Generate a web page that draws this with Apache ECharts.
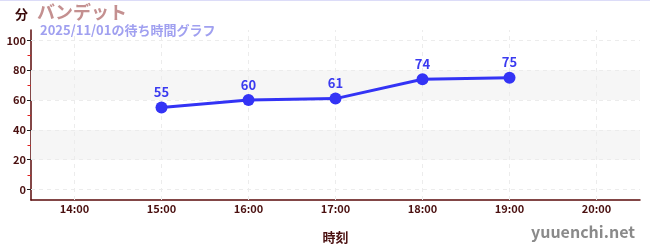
<!DOCTYPE html>
<html>
<head>
<meta charset="utf-8">
<script src="https://cdn.jsdelivr.net/npm/echarts@6/dist/echarts.min.js"></script>
<style>
html,body{margin:0;padding:0;background:#fff;}
#c{width:650px;height:250px;}
</style>
</head>
<body>
<div id="c"></div>
<script>
const categories = ['14:00','15:00','16:00','17:00','18:00','19:00','20:00'];
const waitTimes = [null, 55, 60, 61, 74, 75, null];
const yTickValues = [0, 20, 40, 60, 80, 100];
const yMinorValues = [10, 30, 50, 70, 90];
const shadedBands = [[20, 40], [60, 80]];
const yMin = -7, yMax = 107;

const chart = echarts.init(document.getElementById('c'), null, {renderer: 'canvas'});
const axisColor = '#5a0a0a';
const labelColor = '#4a1010';
const font = '"Noto Sans CJK JP", "Noto Sans", sans-serif';
const gridLine = {color: '#ececec', type: [4, 4], width: 1};

chart.setOption({
  animation: false,
  backgroundColor: '#fff',
  textStyle: {fontFamily: font},
  title: [
    {text: '分', left: 15, top: 8, padding: 0, textStyle: {fontSize: 13, fontWeight: 'bold', color: '#3a0a0a', fontFamily: font}},
    {text: 'バンデット', left: 37, top: 3, padding: 0, textStyle: {fontSize: 18, fontWeight: 'bold', color: '#c49090', fontFamily: font}},
    {text: '2025/11/01の待ち時間グラフ', left: 40, top: 24, padding: 0, textStyle: {fontSize: 13, fontWeight: 'bold', color: '#a0a0f0', fontFamily: font}},
    {text: 'yuuenchi.net', right: 15, top: 224, padding: 0, textStyle: {fontSize: 16, fontWeight: 'bold', color: '#8a8a8a', fontFamily: font}}
  ],
  grid: {left: 31, right: 10, top: 30, bottom: 50, containLabel: false},
  xAxis: {
    type: 'category',
    data: categories,
    boundaryGap: true,
    name: '時刻',
    nameLocation: 'middle',
    nameGap: 31,
    nameTextStyle: {fontSize: 13, fontWeight: 'bold', color: labelColor, fontFamily: font},
    axisLine: {onZero: false, lineStyle: {color: axisColor, width: 1.5}},
    axisTick: {alignWithLabel: true, length: 3, lineStyle: {color: '#333'}},
    axisLabel: {fontSize: 11, fontWeight: 'bold', color: labelColor, margin: 3},
    splitLine: {show: false}
  },
  yAxis: {
    type: 'value',
    min: yMin,
    max: yMax,
    axisLine: {show: true, lineStyle: {color: axisColor, width: 1.5}},
    axisTick: {show: true, length: 4, customValues: yTickValues, lineStyle: {color: '#222'}},
    axisLabel: {fontSize: 11, fontWeight: 'bold', color: labelColor, margin: 5, customValues: yTickValues},
    splitLine: {show: false},
    splitArea: {show: false}
  },
  series: [
    {
      type: 'line',
      data: waitTimes,
      symbol: 'circle',
      symbolSize: 12,
      lineStyle: {color: '#3333f5', width: 3},
      itemStyle: {color: '#3333f5'},
      label: {show: true, position: 'top', distance: 3, fontSize: 13, fontWeight: 'bold', color: '#3a3af0', fontFamily: font},
      z: 5,
      markArea: {
        silent: true,
        itemStyle: {color: '#f6f6f6'},
        data: shadedBands.map(b => [{yAxis: b[0]}, {yAxis: b[1]}])
      },
      markLine: {
        silent: true,
        symbol: 'none',
        label: {show: false},
        lineStyle: gridLine,
        data: yTickValues.map(v => ({yAxis: v})).concat(categories.map(c => ({xAxis: c})))
      }
    }
  ]
});

// minor red ticks on the y axis, positioned through the axis scale
const minorGraphics = yMinorValues.map(v => {
  const p = chart.convertToPixel({gridIndex: 0}, [0, v]);
  return {type: 'line', shape: {x1: 27.5, y1: Math.round(p[1]) + 0.5, x2: 31, y2: Math.round(p[1]) + 0.5}, style: {stroke: '#e02020', lineWidth: 1}, z: 100};
});
chart.setOption({graphic: [
  {type: 'rect', shape: {x: 0, y: 0, width: 650, height: 1}, style: {fill: '#dcdcf8'}, z: 100}
].concat(minorGraphics)});
</script>
</body>
</html>
